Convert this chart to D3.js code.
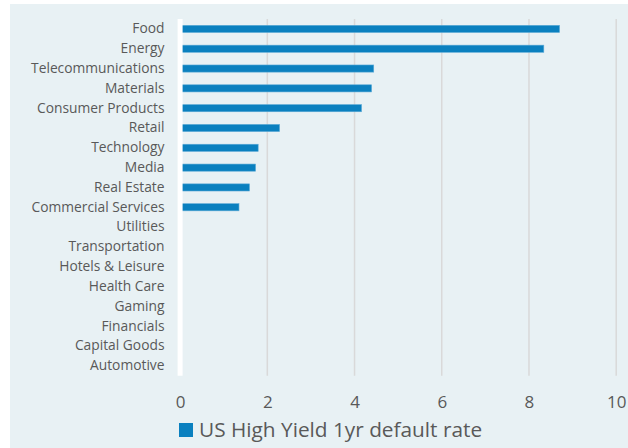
<!DOCTYPE html>
<html>
<head>
<meta charset="utf-8">
<script src="https://cdn.jsdelivr.net/npm/d3@7"></script>
<style>
  html, body { margin: 0; padding: 0; background: #ffffff; }
  svg { display: block; }
  text { font-family: "Open Sans", "Noto Sans", sans-serif; fill: #595959; }
</style>
</head>
<body>
<svg id="chart" width="628" height="448"></svg>
<script>
// Sectors, top to bottom
const sectors = [
  "Food", "Energy", "Telecommunications", "Materials", "Consumer Products",
  "Retail", "Technology", "Media", "Real Estate", "Commercial Services",
  "Utilities", "Transportation", "Hotels & Leisure", "Health Care",
  "Gaming", "Financials", "Capital Goods", "Automotive"
];
// US High Yield 1yr default rate (%)
const defaultRate = [
  8.70, 8.34, 4.44, 4.39, 4.16,
  2.28, 1.79, 1.73, 1.59, 1.35,
  0, 0, 0, 0,
  0, 0, 0, 0
];
const xTicks = [0, 2, 4, 6, 8, 10];
const seriesName = "US High Yield 1yr default rate";

const W = 628, H = 448;
const svg = d3.select("#chart");

// panel background
svg.append("rect")
  .attr("x", 10).attr("y", 4)
  .attr("width", W - 10).attr("height", H - 4)
  .attr("fill", "#e8f1f4");

const x = d3.scaleLinear().domain([0, 10]).range([180.1, 616.2]);
const y = d3.scaleBand().domain(sectors).range([19, 375.7]).paddingInner(0.64).paddingOuter(0.32);

// vertical gridlines
svg.append("g")
  .selectAll("line")
  .data(xTicks.filter(d => d > 0))
  .join("line")
  .attr("x1", d => x(d)).attr("x2", d => x(d))
  .attr("y1", 19).attr("y2", 375.7)
  .attr("stroke", "#d9d9d9")
  .attr("stroke-width", 1.5);

// bars
svg.append("g")
  .selectAll("rect")
  .data(sectors.map((s, i) => ({ s, v: defaultRate[i] })).filter(d => d.v > 0))
  .join("rect")
  .attr("x", x(0))
  .attr("y", d => y(d.s))
  .attr("width", d => x(d.v) - x(0))
  .attr("height", y.bandwidth())
  .attr("fill", "#0a80bf")
  .attr("stroke", "#5aa9d6")
  .attr("stroke-width", 0.6);

// zero axis line
svg.append("line")
  .attr("x1", x(0)).attr("x2", x(0))
  .attr("y1", 19).attr("y2", 375.7)
  .attr("stroke", "#ffffff")
  .attr("stroke-width", 5);

// category labels
const yAxis = d3.axisLeft(y).tickSize(0).tickPadding(0);
const gy = svg.append("g").attr("transform", "translate(164.5,0)").call(yAxis);
gy.select(".domain").remove();
gy.selectAll("text")
  .attr("font-size", 13.8)
  .attr("fill", "#595959")
  .style("font-family", "'Open Sans', sans-serif");

// value axis labels
const xAxis = d3.axisBottom(x).tickValues(xTicks).tickSize(0).tickPadding(0).tickFormat(d3.format("d"));
const gx = svg.append("g").attr("transform", "translate(0,396)").call(xAxis);
gx.select(".domain").remove();
gx.selectAll("text")
  .attr("font-size", 17)
  .attr("fill", "#595959")
  .style("font-family", "'Open Sans', sans-serif");

// legend
const lg = svg.append("g").attr("transform", "translate(179,423)");
lg.append("rect").attr("x", 0).attr("y", 0).attr("width", 14).attr("height", 14).attr("fill", "#0a80bf");
lg.append("text")
  .attr("x", 20).attr("y", 14)
  .attr("font-size", 20.8)
  .attr("fill", "#595959")
  .text(seriesName);
</script>
</body>
</html>
